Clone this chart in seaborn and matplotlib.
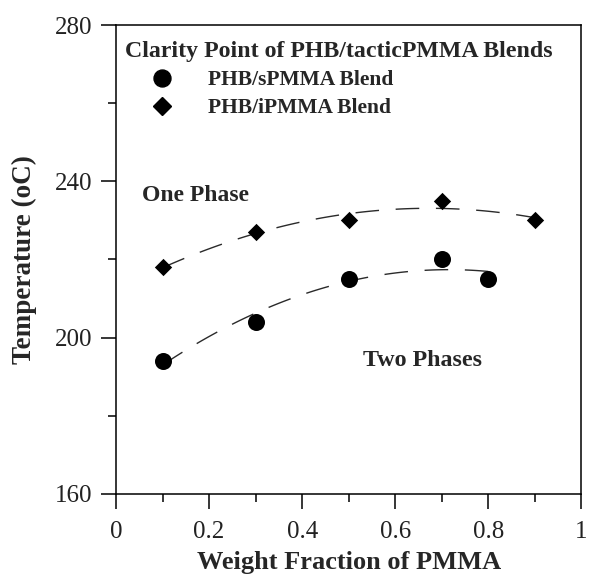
import numpy as np
import pandas as pd
import matplotlib
matplotlib.use("Agg")
import matplotlib.pyplot as plt
from matplotlib.lines import Line2D
import seaborn as sns

# Clarity points (cloud-point temperatures) of PHB blends with tactic PMMA
s_frac = [0.1, 0.3, 0.5, 0.7, 0.8]
s_temp = [194, 204, 215, 220, 215]
i_frac = [0.1, 0.3, 0.5, 0.7, 0.9]
i_temp = [218, 227, 230, 235, 230]

s_label = "PHB/sPMMA Blend"
i_label = "PHB/iPMMA Blend"
legend_title = "Clarity Point of PHB/tacticPMMA Blends"
x_ticks = [0, 0.2, 0.4, 0.6, 0.8, 1]
x_ticklabels = ["0", "0.2", "0.4", "0.6", "0.8", "1"]
y_ticks = [160, 200, 240, 280]

sns.set_theme(style="ticks")
plt.rcParams["font.family"] = ["Liberation Serif", "DejaVu Serif"]

df_s = pd.DataFrame({"w": s_frac, "T": s_temp})
df_i = pd.DataFrame({"w": i_frac, "T": i_temp})

fig = plt.figure(figsize=(5.89, 5.75), dpi=100)
ax = fig.add_axes([0.197, 0.141, 0.790, 0.8155])

dash = dict(color="#2a2a2a", lw=1.0, ls=(0, (17, 12)))
# second-order fits through each series
sns.regplot(data=df_i, x="w", y="T", order=2, ci=None, scatter=False,
            line_kws=dash, ax=ax)
sns.regplot(data=df_s, x="w", y="T", order=2, ci=None, scatter=False,
            line_kws=dash, ax=ax)

sns.scatterplot(data=df_s, x="w", y="T", marker="o", s=150, color="black",
                edgecolor="black", linewidth=0, ax=ax, zorder=3)
sns.scatterplot(data=df_i, x="w", y="T", marker="D", s=78, color="black",
                edgecolor="black", linewidth=0, ax=ax, zorder=3)

ax.set_xlim(0, 1)
ax.set_ylim(160, 280)
ax.set_xticks(x_ticks)
ax.set_xticklabels(x_ticklabels)
ax.set_xticks([0.1, 0.3, 0.5, 0.7, 0.9], minor=True)
ax.set_yticks(y_ticks)
ax.set_yticks([180, 220, 260], minor=True)
ax.tick_params(axis="both", which="major", direction="out", length=11,
               width=1.1, color="black", labelsize=18, labelcolor="#222222")
ax.tick_params(axis="x", which="major", pad=8.5)
ax.tick_params(axis="y", which="major", pad=6)
ax.tick_params(axis="both", which="minor", direction="out", length=5.5,
               width=1.1, color="black")
for sp in ax.spines.values():
    sp.set_visible(True)
    sp.set_linewidth(1.1)
    sp.set_color("black")

ax.set_xlabel("Weight Fraction of PMMA", fontsize=19, fontweight="bold",
              labelpad=5.5)
ax.set_ylabel("Temperature (oC)", fontsize=19.5, fontweight="bold",
              labelpad=13)

ax.text(0.055, 236.3, "One Phase", fontsize=17, fontweight="bold",
        va="center")
ax.text(0.53, 194.2, "Two Phases", fontsize=17.3, fontweight="bold",
        va="center")

handles = [
    Line2D([], [], marker="o", ls="none", color="black", markersize=12.2),
    Line2D([], [], marker="D", ls="none", color="black", markersize=8.7),
]
leg = ax.legend(handles, [s_label, i_label], title=legend_title,
                loc="upper left", bbox_to_anchor=(0.019, 0.965),
                frameon=False, alignment="left",
                prop={"size": 15.5, "weight": "bold"},
                title_fontproperties={"size": 17.2, "weight": "bold"},
                handletextpad=0.42, handlelength=3.43, labelspacing=0.37,
                borderaxespad=0, borderpad=0)

fig.savefig("out.png", dpi=100)
